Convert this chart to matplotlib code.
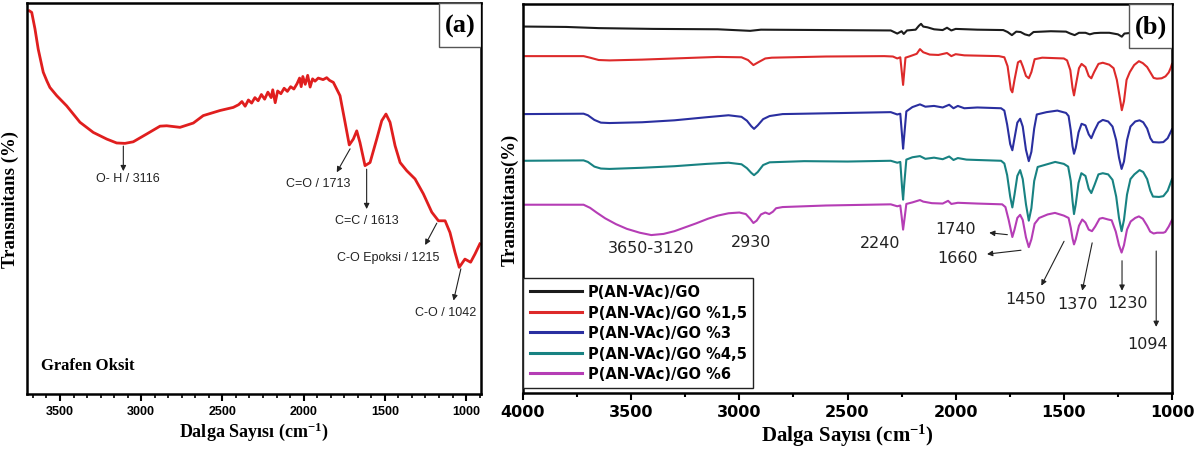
import matplotlib
matplotlib.use('agg')
import matplotlib.pyplot as plt
from matplotlib.ticker import MultipleLocator, AutoMinorLocator
from matplotlib.patches import Rectangle

plt.rcParams['mathtext.fontset'] = 'custom'
plt.rcParams['mathtext.rm'] = 'Liberation Serif:bold'
plt.rcParams['mathtext.bf'] = 'Liberation Serif:bold'
plt.rcParams['mathtext.it'] = 'Liberation Serif:bold'

# ---------------- panel (a): Grafen Oksit ----------------
go_wn = [3689, 3674, 3654, 3634, 3603, 3580, 3562, 3520, 3459, 3377, 3295, 3212, 3151,
         3100, 3049, 2966, 2884, 2843, 2761, 2679, 2618, 2515, 2433,
         2400, 2380, 2360, 2340, 2320, 2300, 2280, 2260, 2240, 2220, 2200, 2190,
         2175, 2160, 2140, 2120, 2100, 2080, 2060, 2040, 2025, 2015, 2005, 1990,
         1975, 1960, 1945, 1930, 1910, 1880, 1858, 1840,
         1817, 1776, 1745, 1719, 1694, 1673, 1653, 1622, 1591, 1550, 1519, 1493,
         1468, 1437, 1406, 1365, 1314, 1263, 1211, 1170, 1129, 1099, 1068, 1042,
         1007, 972, 945, 915]
go_val = [98.0, 97.6, 93.4, 88.2, 82.3, 80.0, 78.4, 76.3, 73.7, 69.5, 66.9, 65.2, 64.2,
          64.1, 64.5, 66.5, 68.5, 68.6, 68.2, 69.3, 71.2, 72.5, 73.3,
          74.0, 74.8, 73.6, 75.2, 74.4, 75.8, 75.0, 76.6, 75.4, 77.2, 75.8, 77.8,
          74.5, 77.5, 76.8, 78.2, 77.4, 78.6, 78.0, 79.4, 80.8, 78.6, 81.2, 79.2,
          81.5, 78.5, 80.6, 80.0, 80.8, 80.4, 80.9, 80.2,
          79.7, 76.3, 69.5, 63.7, 65.2, 67.3, 64.3, 58.4, 59.2, 65.2, 69.9, 71.6,
          69.5, 63.5, 59.2, 57.1, 55.0, 51.2, 46.5, 44.3, 44.3, 41.3, 36.2, 32.4,
          34.5, 33.7, 35.8, 38.4]

a_labels = ["O- H / 3116", "C=O / 1713", "C=C / 1613", "C-O Epoksi / 1215", "C-O / 1042"]
a_text_xy = [(3080, 55.2), (1909, 54.0), (1612, 44.6), (1478, 35.0), (1123, 20.9)]
a_arrow_from = [(3110, 63.4), (1714, 62.7), (1612, 57.5), (1180, 43.7), (1032, 32.0)]
a_arrow_to = [(3110, 57.0), (1796, 56.7), (1612, 47.3), (1252, 38.1), (1077, 23.9)]

# ---------------- panel (b): P(AN-VAc)/GO ----------------
k_wn = [3990, 3800, 3650, 3400, 3100, 2950, 2900, 2600, 2300, 2270, 2250, 2240, 2225,
        2185, 2170, 2160, 2150, 2130, 2100, 2060, 2040, 2020, 2000, 1900, 1780, 1760,
        1740, 1720, 1700, 1680, 1660, 1640, 1560, 1490, 1470, 1450, 1430, 1400, 1380,
        1360, 1330, 1290, 1250, 1232, 1220, 1150, 1080, 1000]
k_val = [94.2, 94.1, 93.8, 93.6, 93.5, 93.1, 93.4, 93.3, 93.2, 92.4, 93.0, 92.3, 93.2,
         93.4, 94.4, 94.9, 94.2, 94.0, 93.5, 93.3, 93.9, 93.2, 93.6, 93.4, 93.3, 92.8,
         92.0, 92.9, 92.8, 92.2, 91.9, 92.8, 93.0, 92.9, 92.4, 92.0, 92.6, 92.6, 92.2,
         92.5, 92.6, 92.6, 92.2, 91.6, 92.4, 92.8, 92.4, 92.6]

r_wn = [3990, 3720, 3690, 3650, 3600, 3450, 3300, 3100, 2990, 2960, 2935, 2910, 2880,
        2850, 2600, 2330, 2290, 2270, 2256, 2243, 2232, 2210, 2180, 2165, 2150, 2120,
        2080, 2040, 2020, 2000, 1960, 1800, 1775, 1760, 1745, 1738, 1728, 1712, 1700,
        1690, 1675, 1662, 1650, 1635, 1600, 1500, 1485, 1470, 1460, 1453, 1445, 1430,
        1418, 1400, 1385, 1373, 1360, 1340, 1320, 1290, 1270, 1255, 1240, 1232, 1222,
        1210, 1195, 1175, 1153, 1135, 1115, 1101, 1085, 1070, 1048, 1030, 1015, 1005, 1000]
r_val = [86.6, 86.6, 86.2, 85.6, 85.5, 85.7, 86.0, 86.4, 86.3, 85.6, 84.3, 85.1, 86.0,
         86.2, 86.5, 86.6, 86.5, 86.0, 86.3, 79.2, 86.2, 86.6, 87.2, 88.4, 87.6, 87.0,
         86.9, 87.4, 86.6, 87.1, 86.8, 86.6, 86.3, 84.0, 78.0, 77.3, 80.5, 85.0, 85.4,
         84.0, 81.5, 80.9, 82.5, 85.8, 86.2, 86.0, 85.5, 83.0, 78.5, 76.5, 79.0, 83.5,
         84.6, 83.8, 81.5, 80.9, 82.5, 84.6, 84.9, 84.4, 83.5, 80.5, 75.5, 72.7, 75.0,
         80.5, 82.5, 84.3, 85.3, 84.8, 83.8, 82.5, 81.0, 80.8, 80.9, 81.4, 82.4, 83.7, 84.6]

b_wn = [3990, 3720, 3700, 3670, 3640, 3600, 3450, 3300, 3150, 3050, 2990, 2965, 2945,
        2932, 2915, 2890, 2860, 2800, 2500, 2300, 2270, 2256, 2246, 2243, 2238, 2228,
        2200, 2165, 2140, 2100, 2060, 2030, 2010, 1990, 1960, 1900, 1790, 1775, 1762,
        1748, 1738, 1728, 1715, 1702, 1690, 1675, 1662, 1650, 1637, 1625, 1580, 1530,
        1490, 1478, 1468, 1460, 1453, 1445, 1432, 1418, 1400, 1385, 1373, 1358, 1340,
        1320, 1295, 1275, 1258, 1245, 1233, 1222, 1208, 1192, 1170, 1150, 1133, 1115,
        1100, 1088, 1060, 1040, 1020, 1000]
b_val = [71.7, 71.8, 71.4, 70.2, 69.5, 69.4, 69.6, 70.1, 70.9, 71.4, 71.0, 70.0, 68.6,
         67.9, 68.8, 70.4, 71.2, 71.7, 72.0, 72.2, 71.6, 71.8, 65.0, 62.8, 66.0, 72.4,
         73.5, 74.2, 73.6, 73.8, 73.4, 74.1, 73.2, 73.8, 73.2, 73.4, 73.2, 72.6, 69.0,
         64.0, 62.4, 65.5, 69.5, 70.5, 68.5, 62.5, 59.6, 62.0, 68.0, 71.6, 72.2, 72.6,
         72.0, 71.2, 67.5, 63.5, 61.5, 63.0, 67.0, 69.2, 68.8, 66.5, 65.5, 67.5, 69.5,
         70.2, 69.8, 68.5, 65.0, 60.5, 57.6, 59.5, 65.0, 68.5, 69.8, 70.1, 69.6, 68.0,
         65.5, 64.5, 64.4, 64.5, 65.5, 67.8]

t_wn = [3990, 3720, 3700, 3670, 3640, 3600, 3450, 3300, 3150, 3050, 2990, 2965, 2945,
        2932, 2915, 2890, 2860, 2700, 2500, 2300, 2270, 2256, 2248, 2243, 2238, 2228,
        2200, 2165, 2140, 2100, 2060, 2030, 2010, 1990, 1950, 1900, 1790, 1775, 1762,
        1748, 1738, 1728, 1715, 1702, 1690, 1675, 1662, 1650, 1637, 1621, 1590, 1540,
        1500, 1480, 1468, 1460, 1453, 1445, 1432, 1419, 1400, 1385, 1373, 1358, 1340,
        1320, 1295, 1275, 1258, 1245, 1233, 1222, 1208, 1192, 1174, 1150, 1133, 1115,
        1100, 1088, 1060, 1040, 1020, 1000]
t_val = [59.7, 59.8, 59.4, 58.2, 57.7, 57.6, 57.9, 58.3, 58.9, 59.2, 58.8, 57.8, 56.6,
         56.0, 56.8, 58.6, 59.3, 59.6, 59.5, 59.7, 59.2, 59.4, 53.0, 49.7, 53.5, 60.0,
         60.6, 60.9, 60.2, 60.5, 60.1, 60.8, 59.9, 60.4, 60.0, 59.9, 59.7, 59.0, 56.0,
         50.5, 47.7, 51.0, 55.8, 57.3, 55.0, 48.5, 44.3, 47.5, 54.5, 58.1, 58.6, 59.4,
         58.9, 58.2, 54.5, 49.5, 46.0, 48.5, 54.0, 56.5, 55.8, 52.5, 51.4, 53.5, 56.2,
         56.5, 56.2, 54.8, 50.5, 45.0, 41.6, 44.5, 51.0, 55.0, 56.2, 57.3, 56.8, 55.0,
         52.0, 50.5, 50.4, 50.6, 52.0, 55.0]

m_wn = [3990, 3720, 3690, 3660, 3620, 3570, 3520, 3460, 3407, 3350, 3300, 3250, 3200,
        3145, 3100, 3050, 3000, 2970, 2950, 2935, 2920, 2900, 2880, 2862, 2845, 2830,
        2800, 2600, 2300, 2270, 2256, 2250, 2243, 2236, 2228, 2200, 2165, 2150, 2110,
        2060, 2035, 2020, 1990, 1900, 1785, 1770, 1755, 1738, 1728, 1715, 1702, 1690,
        1675, 1662, 1650, 1635, 1614, 1575, 1541, 1500, 1478, 1468, 1460, 1453, 1445,
        1430, 1415, 1400, 1385, 1370, 1355, 1335, 1321, 1295, 1279, 1260, 1245, 1233,
        1222, 1208, 1191, 1170, 1153, 1135, 1115, 1101, 1085, 1069, 1040, 1031, 1015, 1000]
m_val = [48.4, 48.4, 47.6, 46.4, 44.9, 43.4, 42.2, 41.2, 40.6, 40.9, 41.6, 42.6, 43.6,
         44.8, 45.6, 46.2, 46.4, 46.0, 44.8, 43.7, 44.3, 45.9, 46.4, 46.0, 46.6, 47.5,
         47.8, 48.2, 48.5, 48.0, 48.2, 45.5, 42.0, 45.0, 48.6, 49.0, 49.6, 49.2, 48.8,
         48.7, 49.4, 48.6, 48.9, 48.7, 48.5, 47.8, 44.5, 40.1, 42.0, 45.0, 45.8, 44.5,
         40.0, 37.5, 39.5, 43.5, 45.0, 45.9, 46.3, 45.6, 45.0, 42.5, 39.8, 38.2, 39.5,
         43.0, 44.6, 43.8, 42.0, 41.6, 42.8, 44.8, 45.0, 44.6, 44.4, 41.5, 38.0, 36.1,
         38.0, 42.0, 44.1, 45.0, 45.4, 44.8, 43.0, 41.5, 41.0, 41.2, 41.2, 41.4, 42.8, 44.5]

series_names = ["P(AN-VAc)/GO", "P(AN-VAc)/GO %1,5", "P(AN-VAc)/GO %3",
                "P(AN-VAc)/GO %4,5", "P(AN-VAc)/GO %6"]
series_colors = ["#1c1c1c", "#dd2a2a", "#2a2fa0", "#188282", "#b53db5"]

b_labels = ["3650-3120", "2930", "2240", "1740", "1660", "1450", "1370", "1230", "1094"]
b_text_xy = [(3407, 37.4), (2945, 39.0), (2348, 38.6), (2002, 42.4), (1992, 34.8),
             (1677, 24.2), (1436, 22.9), (1206, 23.3), (1111, 12.7)]
b_arrow_from = [(1761, 40.7), (1698, 36.7), (1499, 39.0), (1369, 38.6), (1231, 34.0), (1073, 36.5)]
b_arrow_to = [(1845, 41.2), (1855, 35.7), (1604, 27.6), (1415, 26.3), (1231, 26.3), (1073, 17.0)]

serif = ['Liberation Serif', 'DejaVu Serif']
xlab = 'Dalga Sayısı (cm$^{-1}$)'
W, H = 1203, 456
fig = plt.figure(figsize=(W / 100, H / 100), dpi=100)

# ---- (a)
ax1 = fig.add_axes([27 / W, 1 - 395 / H, (481 - 27) / W, (395 - 4) / H])
ax1.plot(go_wn, go_val, color='#e01e1e', lw=2.0)
ax1.set_xlim(3703, 908)
ax1.set_ylim(0, 100)
ax1.set_yticks([])
ax1.xaxis.set_major_locator(MultipleLocator(500))
ax1.xaxis.set_minor_locator(AutoMinorLocator(6))
ax1.tick_params(axis='x', which='major', direction='out', length=5, width=1.5, pad=3)
ax1.tick_params(axis='x', which='minor', direction='out', length=3, width=1.2)
for lab in ax1.get_xticklabels():
    lab.set_fontfamily('Liberation Sans')
    lab.set_fontweight('bold')
    lab.set_fontsize(9)
for sp in ax1.spines.values():
    sp.set_linewidth(1.8)
ax1.set_xlabel(xlab, family=serif, fontweight='bold', fontsize=13, labelpad=2)
ax1.set_ylabel('Transmitans (%)', family=serif, fontweight='bold', fontsize=13.5, labelpad=6)
for (x0, y0), (x1, y1) in zip(a_arrow_from, a_arrow_to):
    ax1.annotate('', xy=(x1, y1), xytext=(x0, y0),
                 arrowprops=dict(arrowstyle='-|>', color='#222222', lw=0.8, mutation_scale=8,
                                 shrinkA=0, shrinkB=0))
for txt, (x, y) in zip(a_labels, a_text_xy):
    ax1.text(x, y, txt, ha='center', va='center', fontsize=9, family='Liberation Sans',
             color='#222222')
ax1.text(0.03, 0.075, 'Grafen Oksit', transform=ax1.transAxes, family=serif,
         fontweight='bold', fontsize=12, ha='left', va='center')
ax1.add_patch(Rectangle((1 - 42 / 454, 1 - 44 / 391), 42 / 454, 44 / 391,
                        transform=ax1.transAxes, facecolor='white', edgecolor='#555555',
                        lw=1, zorder=5))
ax1.text(1 - 21 / 454, 1 - 22 / 391, '(a)', transform=ax1.transAxes, family=serif,
         fontweight='bold', fontsize=19, ha='center', va='center', zorder=6)

# ---- (b)
ax2 = fig.add_axes([523 / W, 1 - 394 / H, (1172 - 523) / W, (394 - 5) / H])
all_wn = [k_wn, r_wn, b_wn, t_wn, m_wn]
all_val = [k_val, r_val, b_val, t_val, m_val]
for wn, val, name, c in zip(all_wn, all_val, series_names, series_colors):
    ax2.plot(wn, val, color=c, lw=1.5, label=name)
ax2.set_xlim(4000, 1000)
ax2.set_ylim(0, 100)
ax2.set_yticks([])
ax2.xaxis.set_major_locator(MultipleLocator(500))
ax2.xaxis.set_minor_locator(MultipleLocator(250))
ax2.tick_params(axis='x', which='major', direction='out', length=5, width=1.5, pad=3)
ax2.tick_params(axis='x', which='minor', direction='out', length=3, width=1.5)
for lab in ax2.get_xticklabels():
    lab.set_fontfamily('DejaVu Sans')
    lab.set_fontweight('bold')
    lab.set_fontsize(11.5)
for sp in ax2.spines.values():
    sp.set_linewidth(1.8)
ax2.set_xlabel(xlab, family=serif, fontweight='bold', fontsize=15, labelpad=2)
ax2.set_ylabel('Transmitans(%)', family=serif, fontweight='bold', fontsize=13.5, labelpad=3)
for (x0, y0), (x1, y1) in zip(b_arrow_from, b_arrow_to):
    ax2.annotate('', xy=(x1, y1), xytext=(x0, y0),
                 arrowprops=dict(arrowstyle='-|>', color='#222222', lw=0.8, mutation_scale=8,
                                 shrinkA=0, shrinkB=0))
for txt, (x, y) in zip(b_labels, b_text_xy):
    ax2.text(x, y, txt, ha='center', va='center', fontsize=11.5, family='DejaVu Sans',
             color='#222222')
leg = ax2.legend(loc='lower left', bbox_to_anchor=(0, 5 / 389), borderaxespad=0,
                 prop=dict(family='DejaVu Sans', weight='bold', size=10.5),
                 frameon=True, fancybox=False, edgecolor='#222222', framealpha=1,
                 handlelength=3.6, handletextpad=0.4, labelspacing=0.38, borderpad=0.45)
leg.get_frame().set_linewidth(1.0)
for line in leg.get_lines():
    line.set_linewidth(2.2)
ax2.add_patch(Rectangle((1 - 43 / 649, 1 - 44 / 389), 43 / 649, 44 / 389,
                        transform=ax2.transAxes, facecolor='white', edgecolor='#555555',
                        lw=1, zorder=5))
ax2.text(1 - 21.5 / 649, 1 - 22 / 389, '(b)', transform=ax2.transAxes, family=serif,
         fontweight='bold', fontsize=19, ha='center', va='center', zorder=6)

fig.savefig('out.png', dpi=100)
